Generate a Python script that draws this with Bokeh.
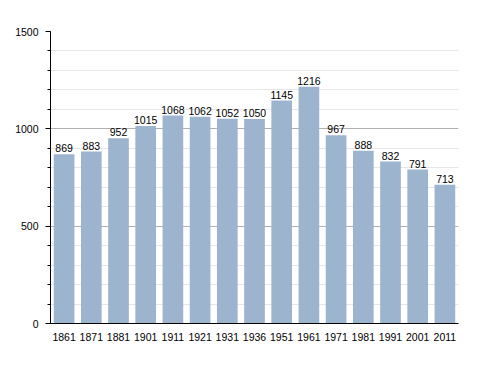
from bokeh.plotting import figure
from bokeh.models import ColumnDataSource, FactorRange, Range1d, SingleIntervalTicker
from bokeh.core.properties import value
from bokeh.embed import file_html
from bokeh.resources import INLINE

years = ["1861", "1871", "1881", "1901", "1911", "1921", "1931", "1936",
         "1951", "1961", "1971", "1981", "1991", "2001", "2011"]
population = [869, 883, 952, 1015, 1068, 1062, 1052, 1050,
              1145, 1216, 967, 888, 832, 791, 713]
labels = [str(v) for v in population]

src = ColumnDataSource(dict(x=years, top=population, label=labels))

p = figure(width=480, height=365, output_backend="svg", toolbar_location=None,
           x_range=FactorRange(factors=years, range_padding=0.0),
           y_range=Range1d(0, 1500),
           min_border_left=50, min_border_right=22, min_border_top=31, min_border_bottom=42)
p.outline_line_color = None
p.background_fill_color = "white"

p.vbar(x="x", top="top", width=0.76, source=src, fill_color="#9cb4cd", line_color=None)
p.text(x="x", y="top", text="label", source=src, text_align="center",
       text_baseline="bottom", y_offset=-2, text_font=value("Liberation Sans"),
       text_font_size="10.5px", text_color="black")

p.yaxis.ticker = SingleIntervalTicker(interval=500, num_minor_ticks=5)
p.yaxis.axis_line_color = "black"
p.yaxis.major_tick_line_color = "black"
p.yaxis.minor_tick_line_color = "black"
p.yaxis.major_tick_in = 0
p.yaxis.major_tick_out = 5
p.yaxis.minor_tick_in = 0
p.yaxis.minor_tick_out = 3
p.yaxis.major_label_standoff = 7
p.yaxis.major_label_text_font = "Liberation Sans"
p.yaxis.major_label_text_font_size = "10.5px"
p.yaxis.major_label_text_color = "black"

p.xaxis.axis_line_color = "black"
p.xaxis.major_tick_line_color = None
p.xaxis.minor_tick_line_color = None
p.xaxis.major_label_standoff = 3
p.xaxis.major_label_text_font = "Liberation Sans"
p.xaxis.major_label_text_font_size = "10.5px"
p.xaxis.major_label_text_color = "black"

p.xgrid.grid_line_color = None
p.ygrid.grid_line_color = "#b0b0b0"
p.ygrid.minor_grid_line_color = "#e6e6e6"
p.ygrid.level = "underlay"

open("out.html", "w").write(file_html(p, INLINE))
